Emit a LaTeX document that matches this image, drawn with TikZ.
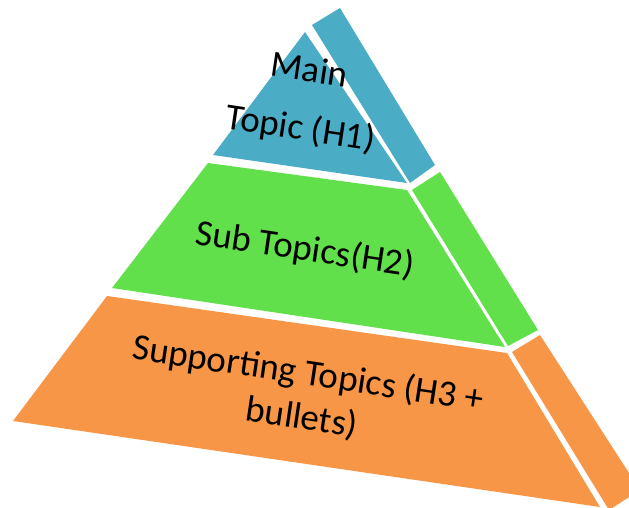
\documentclass[tikz,border=0pt]{standalone}
\usepackage{fontspec}
\setmainfont{Carlito}

\definecolor{tierblue}{HTML}{4BACC6}
\definecolor{tiergreen}{HTML}{62E04B}
\definecolor{tierorange}{HTML}{F79646}

\begin{document}
\begin{tikzpicture}[x=1pt,y=-1pt,
tiertext/.style={align=center,inner sep=0pt,rotate=-8.5,text=black,font=\fontsize{37}{44}\selectfont}]
\useasboundingbox (0,0) rectangle (629,508);
% top tier: front face and side face
\fill[tierblue] (305,32) -- (213,155) -- (407,183) -- cycle;
\fill[tierblue] (312,25) -- (340,8) -- (435,165) -- (410,183) -- cycle;
% middle tier
\fill[tiergreen] (208,163) -- (407,190) -- (505,347) -- (112,288) -- cycle;
\fill[tiergreen] (412,190) -- (440,172) -- (538,330) -- (508,346) -- cycle;
% bottom tier, its side runs off the page
\fill[tierorange] (107,296) -- (507,353) -- (600,507) -- (13,421) -- cycle;
\fill[tierorange] (512,352) -- (540,335) -- (640,490) -- (609,510) -- cycle;
\node[tiertext,font=\fontsize{37}{59}\selectfont] (h1) at (305,101) {Main\\Topic (H1)};
\node[tiertext] (h2) at (305,250) {Sub Topics(H2)};
\node[tiertext] (h3) at (305,396) {Supporting Topics (H3 +\\bullets)};
\end{tikzpicture}
\end{document}
